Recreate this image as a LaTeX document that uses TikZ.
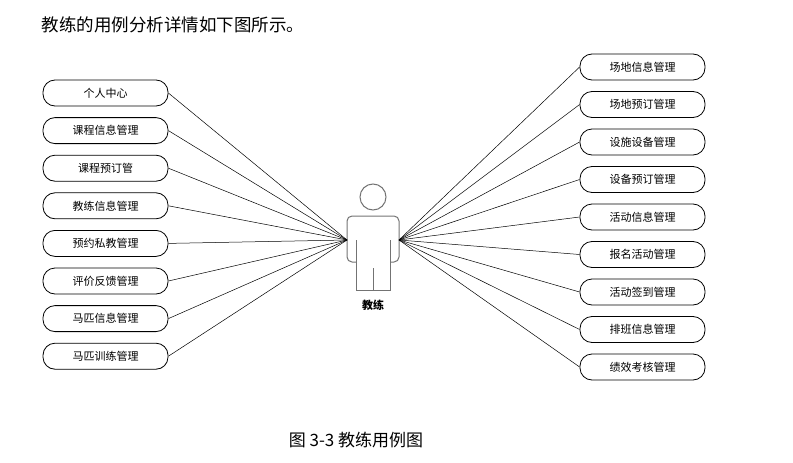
\documentclass[tikz,border=0pt]{standalone}
\usepackage{fontspec}
\newfontfamily\cjk{Noto Sans CJK SC}
\usetikzlibrary{positioning}

\tikzset{
  usecase/.style={draw, rounded corners=12pt, minimum width=125pt, minimum height=26pt,
    inner sep=0pt, font=\cjk\fontsize{11}{11}\selectfont},
  link/.style={black, line width=0.5pt}
}

\begin{document}
\begin{tikzpicture}[x=1pt, y=-1pt, line width=0.8pt]
    \useasboundingbox (0,0) rectangle (793,463);
    \node[anchor=west, font=\cjk\fontsize{17.5}{17.5}\selectfont] (title) at (38,25) {教练的用例分析详情如下图所示。};
    % actor
    \draw[gray!90!black, line width=1pt] (373,197) circle (13);
    \draw[gray!90!black, line width=1pt, rounded corners=5pt]
      (356,262) -- (347,262) -- (347,216) -- (399,216) -- (399,262) -- (390,262);
    \draw[gray!90!black, line width=1pt]
      (356,240) -- (356,290) -- (390,290) -- (390,240);
    \draw[gray!90!black, line width=1pt] (373,268) -- (373,290);
    \coordinate (handL) at (347,240);
    \coordinate (handR) at (399,240);
    \node[font=\cjk\bfseries\fontsize{11}{11}\selectfont] (coach) at (373,305) {教练};
    % left use cases
    \foreach \txt [count=\i] in {个人中心, 课程信息管理, 课程预订管, 教练信息管理,
        预约私教管理, 评价反馈管理, 马匹信息管理, 马匹训练管理} {
      \node[usecase] (l\i) at (105.5, 93+37.6*\i-37.6) {\txt};
      \draw[link] (l\i.east) -- (handL);
    }
    % right use cases
    \foreach \txt [count=\i] in {场地信息管理, 场地预订管理, 设施设备管理, 设备预订管理,
        活动信息管理, 报名活动管理, 活动签到管理, 排班信息管理, 绩效考核管理} {
      \node[usecase] (r\i) at (642.5, 67+37.5*\i-37.5) {\txt};
      \draw[link] (r\i.west) -- (handR);
    }
    \node[font=\cjk\fontsize{17}{17}\selectfont] (caption) at (356,440) {图 3-3 教练用例图};
\end{tikzpicture}
\end{document}
